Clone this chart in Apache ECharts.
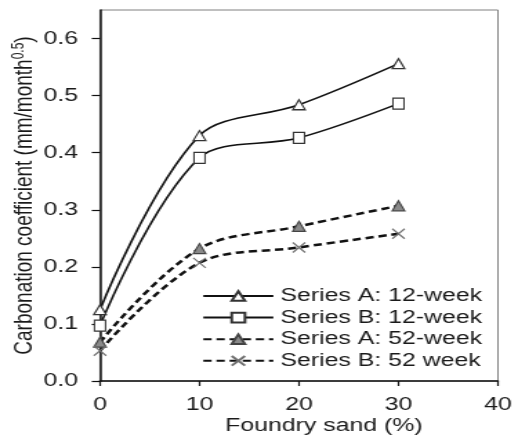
<!DOCTYPE html>
<html>
<head>
<meta charset="utf-8">
<script src="https://cdn.jsdelivr.net/npm/echarts@6/dist/echarts.min.js"></script>
<style>
  html, body { margin: 0; padding: 0; background: #fff; overflow: hidden; }
  /* the source figure is stretched sideways, so draw narrow and widen it */
  #chart { width: 375px; height: 439px; transform: scaleX(1.3813); transform-origin: 0 0; }
</style>
</head>
<body>
<div id="chart"></div>
<script>
// data
var sandPct = [0, 10, 20, 30];
var seriesA12 = [0.125, 0.43, 0.484, 0.556];
var seriesB12 = [0.097, 0.391, 0.426, 0.486];
var seriesA52 = [0.068, 0.232, 0.271, 0.307];
var seriesB52 = [0.053, 0.207, 0.234, 0.258];
var seriesNames = ['Series A: 12-week', 'Series B: 12-week', 'Series A: 52-week', 'Series B: 52 week'];

var FONT = '"Liberation Sans", Arial, sans-serif';
var TXT = '#1a1a1a';

function pairs(vals){
	return sandPct.map(function(x, i){ return [x, vals[i]]; });
}

function mkSeries(name, vals, dashed, symbol, size, fill, border){
	return {
		name: name,
		type: 'line',
		data: pairs(vals),
		smooth: 0.35,
		symbol: symbol,
		symbolSize: size,
		showAllSymbol: true,
		lineStyle: { color: '#111', width: dashed ? 2.5 : 1.6, type: dashed ? [6, 3.5] : 'solid' },
		itemStyle: { color: fill, borderColor: border, borderWidth: 1.2 },
		emphasis: { disabled: true },
		z: 3
	};
}

var crossPath = 'path://M0,0L10,10M10,0L0,10';

var myChart = echarts.init(document.getElementById('chart'));
var option = {
	animation: false,
	backgroundColor: '#fff',
	textStyle: { fontFamily: FONT, color: TXT },
	grid: {
		left: 72.4, right: 14.5, top: 10, bottom: 58,
		outerBoundsMode: 'none',
		show: true, borderColor: '#808080', borderWidth: 1
	},
	legend: {
		orient: 'vertical',
		left: 146.2,
		top: 287,
		padding: 0,
		itemWidth: 50.7,
		itemHeight: 12,
		itemGap: 3.6,
		textStyle: { fontSize: 18, fontFamily: FONT, color: TXT },
		data: seriesNames
	},
	xAxis: {
		type: 'value',
		min: 0,
		max: 40,
		interval: 10,
		name: 'Foundry sand (%)',
		nameLocation: 'middle',
		nameGap: 36,
		nameMoveOverlap: false,
		nameTextStyle: { fontSize: 18, fontFamily: FONT, color: TXT, padding: [0, 0, 0, 36] },
		axisLine: { onZero: false, lineStyle: { color: '#111', width: 1.5 } },
		axisTick: { inside: false, length: 5, lineStyle: { color: '#111', width: 1.2 } },
		axisLabel: { fontSize: 18, fontFamily: FONT, color: TXT, margin: 15 },
		splitLine: { show: false }
	},
	yAxis: {
		type: 'value',
		min: 0,
		max: 0.65,
		interval: 0.1,
		name: 'Carbonation coefficient (mm/month{sup|0.5})',
		nameLocation: 'middle',
		nameGap: 44,
		nameMoveOverlap: false,
		nameTextStyle: {
			fontSize: 19, fontFamily: FONT, color: TXT,
			rich: { sup: { fontSize: 12, fontFamily: FONT, color: TXT, verticalAlign: 'top', padding: [0, 0, 9, 0] } }
		},
		axisLine: { onZero: false, lineStyle: { color: '#111', width: 1.5 } },
		axisTick: { inside: false, length: 6, lineStyle: { color: '#111', width: 1.2 } },
		axisLabel: {
			fontSize: 18, fontFamily: FONT, color: TXT, margin: 16, showMaxLabel: false,
			formatter: function(v){ return v.toFixed(1); }
		},
		splitLine: { show: false }
	},
	series: [
		mkSeries(seriesNames[0], seriesA12, false, 'triangle', [9, 10], '#fff', '#333'),
		mkSeries(seriesNames[1], seriesB12, false, 'rect', [8, 11], '#fff', '#333'),
		mkSeries(seriesNames[2], seriesA52, true, 'triangle', [9, 10], '#8a8a8a', '#444'),
		mkSeries(seriesNames[3], seriesB52, true, crossPath, [9, 10], 'none', '#707070')
	]
};
myChart.setOption(option);
</script>
</body>
</html>
